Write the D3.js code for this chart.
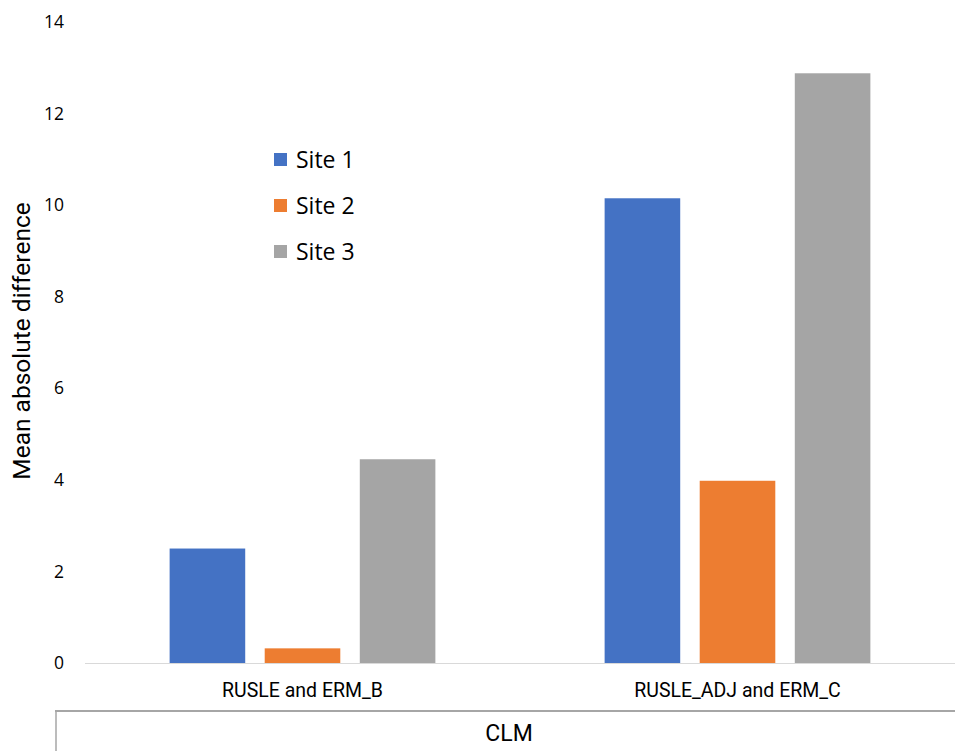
<!DOCTYPE html>
<html>
<head>
<meta charset="utf-8">
<script src="https://cdn.jsdelivr.net/npm/d3@7"></script>
<style>
  body { margin: 0; background: #fff; }
  svg { display: block; }
  text { fill: #000; }
</style>
</head>
<body>
<svg id="chart" width="955" height="751"></svg>
<script>
// Mean absolute difference between model pairs, per site (CLM)
const categories = ["RUSLE and ERM_B", "RUSLE_ADJ and ERM_C"];
const series = ["Site 1", "Site 2", "Site 3"];
const site1 = [2.5, 10.15];
const site2 = [0.32, 3.98];
const site3 = [4.45, 12.88];
const seriesValues = [site1, site2, site3];
const yTicks = [0, 2, 4, 6, 8, 10, 12, 14];
const groupLabel = "CLM";
const yTitle = "Mean absolute difference";
const colors = ["#4472C4", "#ED7D31", "#A5A5A5"];

const svg = d3.select("#chart");
const margin = { left: 85, right: 0, top: 22, bottom: 88 };
const W = 955, H = 751;
const plotBottom = 663;

const x0 = d3.scaleBand().domain(categories).range([margin.left, W]).paddingInner(0).paddingOuter(0);
const x1 = d3.scaleBand().domain(series).range([0, x0.bandwidth()]).paddingInner(0.205).paddingOuter(0.89);
const y = d3.scaleLinear().domain([0, 14]).range([plotBottom, margin.top]);

const sansFont = "'Open Sans', 'Noto Sans', sans-serif";
const labelFont = "Roboto, 'Noto Sans', sans-serif";

// y tick labels (no axis line, no gridlines)
const yAxis = d3.axisLeft(y).tickValues(yTicks).tickSize(0).tickPadding(0).tickFormat(d3.format("d"));
const gy = svg.append("g").attr("transform", `translate(64,0)`).call(yAxis);
gy.select(".domain").remove();
gy.selectAll("text").attr("font-family", sansFont).attr("font-size", 17.5).attr("fill", "#333");

// y title
svg.append("text")
  .attr("transform", `translate(30,${341}) rotate(-90)`)
  .attr("text-anchor", "middle")
  .attr("font-family", labelFont)
  .attr("font-size", 24.5)
  .text(yTitle);

// bars
const rows = [];
categories.forEach((c, ci) => series.forEach((s, si) => rows.push({ c, s, si, v: seriesValues[si][ci] })));
svg.append("g").selectAll("rect").data(rows).join("rect")
  .attr("x", d => x0(d.c) + x1(d.s))
  .attr("width", x1.bandwidth())
  .attr("y", d => y(d.v))
  .attr("height", d => y(0) - y(d.v))
  .attr("fill", d => colors[d.si]);

// baseline
svg.append("line")
  .attr("x1", margin.left).attr("x2", W)
  .attr("y1", plotBottom + 0.5).attr("y2", plotBottom + 0.5)
  .attr("stroke", "#d9d9d9").attr("stroke-width", 1);

// category labels
const xAxis = d3.axisBottom(x0).tickSize(0).tickPadding(0);
const gx = svg.append("g").attr("transform", `translate(0,${plotBottom + 20})`).call(xAxis);
gx.select(".domain").remove();
gx.selectAll("text").attr("font-family", labelFont).attr("font-size", 19.5).attr("fill", "#111");

// group separator and bracket
svg.append("line")
  .attr("x1", 55).attr("x2", W)
  .attr("y1", 711).attr("y2", 711)
  .attr("stroke", "#a6a6a6").attr("stroke-width", 2);
svg.append("line")
  .attr("x1", 56).attr("x2", 56)
  .attr("y1", 710).attr("y2", H)
  .attr("stroke", "#a6a6a6").attr("stroke-width", 1.5);
svg.append("text")
  .attr("x", (55 + W) / 2 + 4).attr("y", 741)
  .attr("text-anchor", "middle")
  .attr("font-family", labelFont)
  .attr("font-size", 23)
  .text(groupLabel);

// legend
const legend = svg.append("g").attr("transform", "translate(274,160)");
series.forEach((s, i) => {
  const g = legend.append("g").attr("transform", `translate(0,${i * 46})`);
  g.append("rect").attr("x", 0).attr("y", -7).attr("width", 13).attr("height", 13).attr("fill", colors[i]);
  g.append("text").attr("x", 22).attr("y", 0).attr("dy", "0.35em")
    .attr("font-family", sansFont).attr("font-size", 23).attr("fill", "#222").text(s);
});
</script>
</body>
</html>
